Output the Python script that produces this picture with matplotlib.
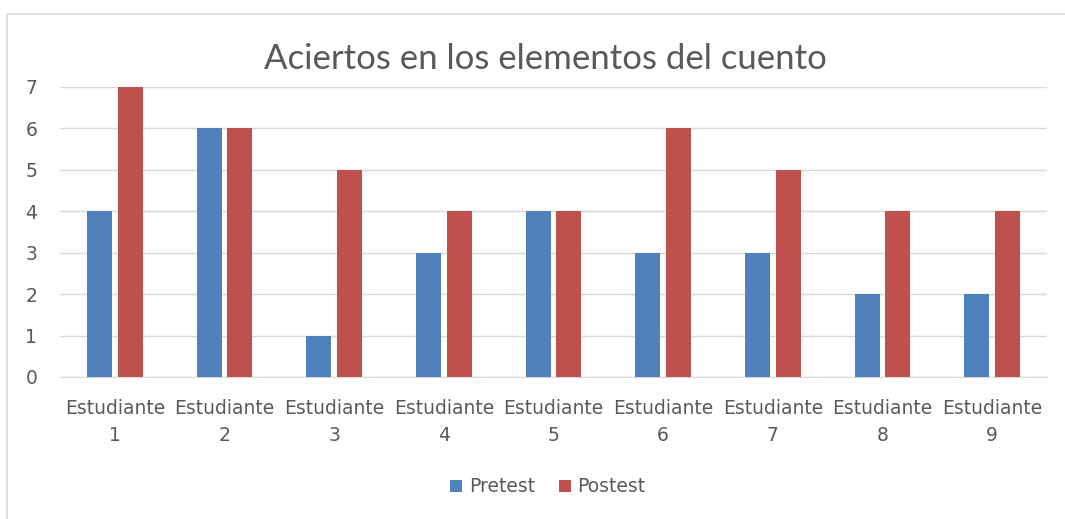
import numpy as np
import matplotlib.pyplot as plt
from matplotlib.patches import Rectangle

plt.rcParams['font.family'] = ['DejaVu Sans']

categorias = ['Estudiante\n1', 'Estudiante\n2', 'Estudiante\n3', 'Estudiante\n4',
              'Estudiante\n5', 'Estudiante\n6', 'Estudiante\n7', 'Estudiante\n8',
              'Estudiante\n9']
pretest = [4, 6, 1, 3, 4, 3, 3, 2, 2]
postest = [7, 6, 5, 4, 4, 6, 5, 4, 4]

azul = '#4F81BD'
rojo = '#C0504D'
gris_texto = '#595959'

W, H = 1065, 519
fig = plt.figure(figsize=(W / 100, H / 100), dpi=100)

# borde del area del grafico (estilo Excel)
fig.patches.append(Rectangle((7 / W, -0.1), 1.0, 1.1 - 14 / H, transform=fig.transFigure,
                             fill=False, edgecolor='#D9D9D9', linewidth=1.2))

ax = fig.add_axes([60 / W, 1 - 377 / H, (1047 - 60) / W, (377 - 87) / H])

x = np.arange(len(categorias))
ancho = 0.23
desp = 0.14
ax.bar(x - desp, pretest, ancho, color=azul, label='Pretest', zorder=3)
ax.bar(x + desp, postest, ancho, color=rojo, label='Postest', zorder=3)

ax.set_xlim(-0.5, len(categorias) - 0.5)
ax.set_ylim(0, 7)
ax.set_yticks(range(0, 8))
ax.set_xticks(x)
ax.set_xticklabels(categorias, fontsize=13.5, color=gris_texto, linespacing=1.55)
ax.tick_params(axis='y', labelsize=13.5, colors=gris_texto, length=0, pad=25)
ax.tick_params(axis='x', length=0, pad=16)
for lbl in ax.get_yticklabels():
    lbl.set_horizontalalignment('left')

ax.grid(axis='y', color='#D9D9D9', linewidth=1, zorder=0)
for s in ['top', 'right', 'left']:
    ax.spines[s].set_visible(False)
ax.spines['bottom'].set_color('#D9D9D9')

fig.text(545 / W, 1 - 69 / H, 'Aciertos en los elementos del cuento', ha='center',
         va='baseline', fontsize=25, color=gris_texto, family=['Lato', 'DejaVu Sans'])

fig.legend(loc='center', bbox_to_anchor=(548 / W, 1 - 487 / H), ncol=2, frameon=False,
           fontsize=13.5, handlelength=0.64, handleheight=0.64, columnspacing=1.23,
           handletextpad=0.37, labelcolor=gris_texto)

fig.savefig('out.png', dpi=100)
